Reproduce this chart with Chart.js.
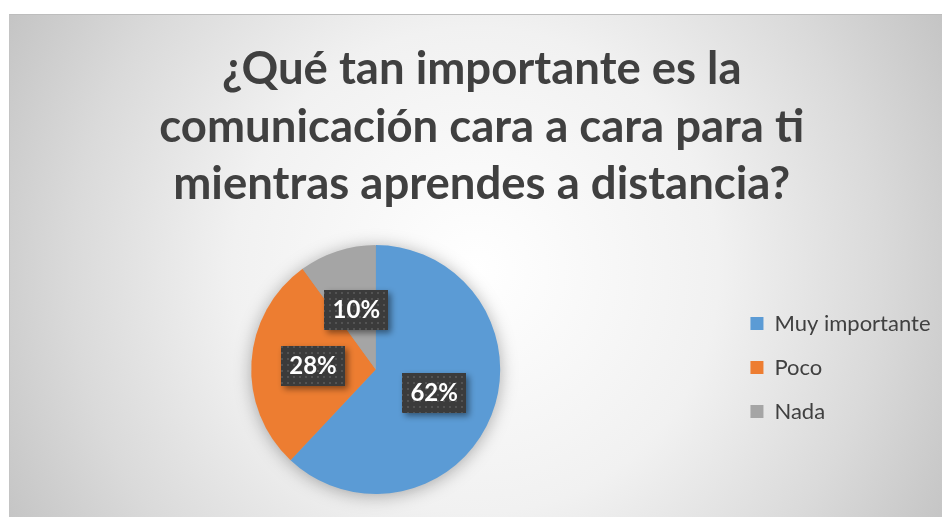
<!DOCTYPE html>
<html>
<head>
<meta charset="utf-8">
<script src="https://cdn.jsdelivr.net/npm/chart.js@4.4.1/dist/chart.umd.min.js"></script>
<style>
  html, body { margin: 0; padding: 0; background: #ffffff; }
  body { width: 943px; height: 517px; position: relative; overflow: hidden; }
  #frame {
    position: absolute; left: 9px; top: 14px; width: 933px; height: 503px;
    box-sizing: border-box; border-top: 1px solid #bdbdbd; border-left: 1px solid #c4c4c4;
    background: radial-gradient(circle 540px at 466px 255px, #ffffff 0%, #f1f1f1 45%, #dadada 75%, #c3c3c3 100%);
  }
  #c { position: absolute; left: 0; top: 0; }
</style>
</head>
<body>
<div id="frame"><canvas id="c" width="933" height="503"></canvas></div>
<script>
const titleLines = ['¿Qué tan importante es la', 'comunicación cara a cara para ti', 'mientras aprendes a distancia?'];
const categories = ['Muy importante', 'Poco', 'Nada'];
const percentValues = [62, 28, 10];
const sliceColors = ['#5b9bd5', '#ed7d31', '#a5a5a5'];
const FONT = 'Lato, "Open Sans", sans-serif';

function makePattern(ctx) {
  const p = document.createElement('canvas');
  p.width = 6; p.height = 6;
  const pc = p.getContext('2d');
  pc.fillStyle = '#3b3b3b';
  pc.fillRect(0, 0, 6, 6);
  pc.fillStyle = '#535353';
  pc.fillRect(1, 1, 2, 2);
  return ctx.createPattern(p, 'repeat');
}

const pieShadow = {
  id: 'pieShadow',
  beforeDatasetsDraw(chart) {
    const meta = chart.getDatasetMeta(0);
    if (!meta.data.length) return;
    const a = meta.data[0];
    const ctx = chart.ctx;
    ctx.save();
    ctx.shadowColor = 'rgba(0,0,0,0.35)';
    ctx.shadowBlur = 18;
    ctx.shadowOffsetX = 0;
    ctx.shadowOffsetY = 2;
    ctx.fillStyle = '#a0a0a0';
    ctx.beginPath();
    ctx.arc(a.x, a.y, a.outerRadius - 1, 0, Math.PI * 2);
    ctx.fill();
    ctx.restore();
  }
};

const boxLabels = {
  id: 'boxLabels',
  afterDatasetsDraw(chart) {
    const meta = chart.getDatasetMeta(0);
    const ctx = chart.ctx;
    const pattern = makePattern(ctx);
    meta.data.forEach((arc, i) => {
      const mid = (arc.startAngle + arc.endAngle) / 2;
      const r = arc.outerRadius * 0.505;
      const cx = arc.x + Math.cos(mid) * r;
      const cy = arc.y + Math.sin(mid) * r;
      const txt = percentValues[i] + '%';
      ctx.save();
      ctx.font = 'bold 24px ' + FONT;
      const w = 64, h = 40;
      ctx.shadowColor = 'rgba(0,0,0,0.45)';
      ctx.shadowBlur = 6;
      ctx.shadowOffsetX = 3;
      ctx.shadowOffsetY = 3;
      ctx.fillStyle = pattern;
      ctx.fillRect(Math.round(cx - w / 2), Math.round(cy - h / 2), w, h);
      ctx.shadowColor = 'transparent';
      ctx.fillStyle = '#ffffff';
      ctx.textAlign = 'center';
      ctx.textBaseline = 'middle';
      ctx.fillText(txt, cx, cy + 1);
      ctx.restore();
    });
  }
};

new Chart(document.getElementById('c'), {
  type: 'pie',
  data: {
    labels: categories,
    datasets: [{
      data: percentValues,
      backgroundColor: sliceColors,
      borderWidth: 0
    }]
  },
  options: {
    responsive: false,
    animation: false,
    layout: { padding: { left: 13, right: 2.5, top: 0, bottom: 24 } },
    plugins: {
      tooltip: { enabled: false },
      title: {
        display: true,
        text: titleLines,
        color: '#404040',
        font: { family: FONT, size: 45.5, weight: 'bold', lineHeight: 1.264 },
        padding: { top: 26, bottom: 31.5 }
      },
      legend: {
        position: 'right',
        title: {
          display: true,
          text: '',
          font: { family: FONT, size: 21, lineHeight: 1.2 },
          padding: { top: 201, bottom: 0 }
        },
        labels: {
          boxWidth: 13,
          boxHeight: 13,
          padding: 22,
          color: '#404040',
          font: { family: FONT, size: 22 }
        }
      }
    }
  },
  plugins: [pieShadow, boxLabels]
});
</script>
</body>
</html>
